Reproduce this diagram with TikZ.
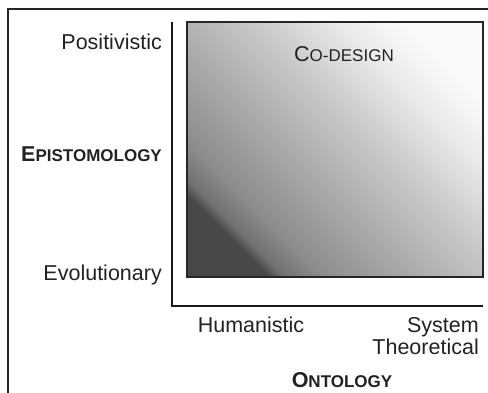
\documentclass[tikz,border=0pt]{standalone}
\usepackage{fontspec}
\setmainfont{Liberation Sans}
\pgfdeclareverticalshading{codesign}{100bp}{color(0bp)=(black!72); color(25bp)=(black!72); color(27bp)=(black!56); color(32bp)=(black!45); color(42bp)=(black!35); color(55bp)=(black!22); color(67bp)=(black!8); color(75bp)=(black!2); color(100bp)=(black!2)}
\definecolor{ink}{HTML}{222222}
\tikzset{
  lbl/.style={font=\fontsize{21.5}{25}\selectfont, text=ink, inner sep=0pt},
  ttl/.style={font=\fontsize{21.5}{25}\selectfont\bfseries, text=ink, inner sep=0pt},
  frameline/.style={draw=black!85, line width=1.6pt},
  axisline/.style={draw=black!90, line width=2.6pt},
}
\newcommand{\smc}[2]{#1{\fontsize{17}{20}\selectfont #2}}
\begin{document}
\begin{tikzpicture}[x=1pt,y=-1pt]
\useasboundingbox (0,0) rectangle (488,393);
\fill[white] (0,0) rectangle (488,393);
% outer frame
\draw[frameline] (488,9) -- (8,9) -- (8,393);
% gradient box
\shade[shading=codesign, shading angle=-45] (187,22) rectangle (483,277);
\draw[black!85, line width=1.6pt] (187,22) rectangle (483,277);
% axes
\draw[axisline] (172,22) -- (172,306) -- (483,306);
% labels
\node[lbl, anchor=base east] (pos) at (162,50) {Positivistic};
\node[ttl, anchor=base east] (epi) at (162,162) {\smc{E}{PISTOMOLOGY}};
\node[lbl, anchor=base east] (evo) at (162,280) {Evolutionary};
\node[lbl, anchor=base] (hum) at (251,333) {Humanistic};
\node[lbl, anchor=base east] (sys) at (479,333) {System};
\node[lbl, anchor=base east] (the) at (479,355) {Theoretical};
\node[ttl, anchor=base] (ont) at (342,387) {\smc{O}{NTOLOGY}};
\node[lbl, anchor=base] (cod) at (344,62) {\smc{C}{O-DESIGN}};
\end{tikzpicture}
\end{document}
